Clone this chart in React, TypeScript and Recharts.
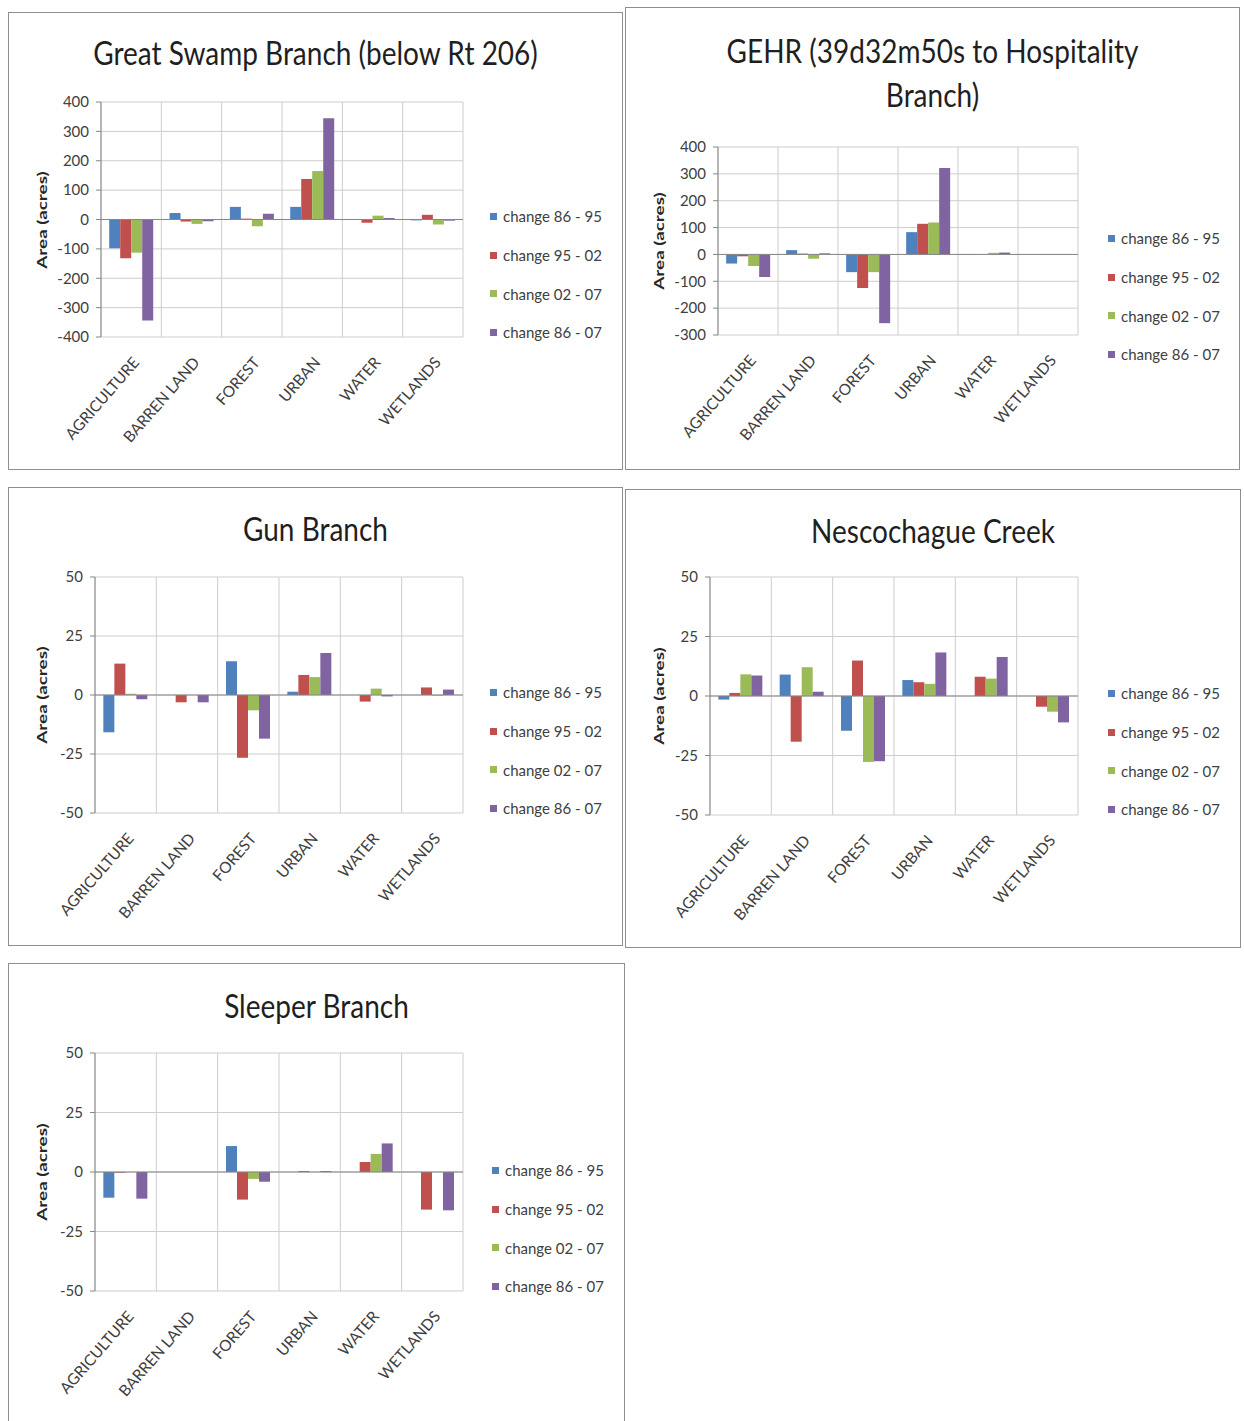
import React from "react";
import {
  BarChart,
  Bar,
  XAxis,
  YAxis,
  CartesianGrid,
  Legend,
  ReferenceLine,
} from "recharts";

const FONT = "Lato, 'Open Sans', sans-serif";

const categories = ["AGRICULTURE", "BARREN LAND", "FOREST", "URBAN", "WATER", "WETLANDS"];
const seriesNames = ["change 86 - 95", "change 95 - 02", "change 02 - 07", "change 86 - 07"];
const seriesColors = ["#4F81BD", "#C0504D", "#9BBB59", "#8064A2"];

// rows follow seriesNames, columns follow categories
const greatSwampValues = [
  [-98, 22, 43, 43, 0, -3],
  [-132, -7, 3, 138, -11, 16],
  [-113, -15, -23, 165, 13, -17],
  [-344, -6, 20, 345, 5, -4],
];
const gehrValues = [
  [-34, 16, -66, 83, -2, 0],
  [-7, 3, -125, 114, 0, -1],
  [-43, -16, -66, 119, 6, -2],
  [-84, 4, -256, 322, 7, -2],
];
const gunValues = [
  [-15.8, 0, 14.3, 1.4, 0, 0],
  [13.3, -3.1, -26.6, 8.5, -2.8, 3.2],
  [0.5, 0, -6.5, 7.6, 2.7, -0.3],
  [-1.8, -3.1, -18.5, 17.8, -0.6, 2.3],
];
const nescochagueValues = [
  [-1.5, 9.0, -14.6, 6.7, 0, 0],
  [1.3, -19.2, 14.9, 5.8, 8.1, -4.5],
  [9.1, 12.1, -27.7, 5.1, 7.3, -6.6],
  [8.6, 1.8, -27.4, 18.3, 16.4, -11.1],
];
const sleeperValues = [
  [-10.8, 0, 10.9, 0, 0, 0],
  [-0.3, 0, -11.6, 0.4, 4.2, -15.8],
  [0, 0, -2.9, 0, 7.6, 0],
  [-11.2, 0, -4.1, 0.4, 12.0, -16.1],
];

const bigTicksA = [-400, -300, -200, -100, 0, 100, 200, 300, 400];
const bigTicksB = [-300, -200, -100, 0, 100, 200, 300, 400];
const smallTicks = [-50, -25, 0, 25, 50];

function XTick({ x, y, payload }: any) {
  const ax = x + 9;
  const ay = y + 18;
  return (
    <text
      x={ax}
      y={ay}
      transform={`rotate(-49, ${ax}, ${ay})`}
      textAnchor="end"
      fill="#404040"
      fontSize={15.5}
      fontFamily={FONT}
    >
      {payload.value}
    </text>
  );
}

function LegendBox() {
  return (
    <div style={{ fontFamily: FONT, fontSize: 15, color: "#404040", textAlign: "left" }}>
      {seriesNames.map((name, i) => (
        <div key={name} style={{ height: 38.7, display: "flex", alignItems: "center" }}>
          <span
            style={{
              display: "inline-block",
              width: 7,
              height: 7,
              background: seriesColors[i],
              marginRight: 6,
            }}
          />
          {name}
        </div>
      ))}
    </div>
  );
}

function Panel({ box, title, values, ticks, plot, legendPos, titleTop }: any) {
  const data = categories.map((name, i) => ({
    name,
    s0: values[0][i],
    s1: values[1][i],
    s2: values[2][i],
    s3: values[3][i],
  }));
  const yAxisWidth = 60;
  const xAxisHeight = 110;
  const margin = {
    top: plot.top,
    right: box.w - plot.right,
    left: plot.left - yAxisWidth,
    bottom: box.h - plot.bottom - xAxisHeight,
  };

  return (
    <div style={{ position: "absolute", left: box.x, top: box.y, width: box.w, height: box.h, background: "#fff" }}>
      <div
        style={{
          position: "absolute",
          left: 0,
          top: titleTop,
          width: box.w,
          textAlign: "center",
          fontFamily: FONT,
          fontSize: 28,
          lineHeight: "39px",
          color: "#1f1f1f",
          transform: "scaleY(1.15)",
          transformOrigin: "top center",
        }}
      >
        {title.map((t: string) => (
          <div key={t}>{t}</div>
        ))}
      </div>
      <div
        style={{
          position: "absolute",
          left: 34 - 60,
          top: (plot.top + plot.bottom) / 2 - 10,
          width: 120,
          height: 20,
          textAlign: "center",
          transform: "rotate(-90deg) scaleX(1.45)",
          fontFamily: FONT,
          fontWeight: "bold",
          fontSize: 13,
          lineHeight: "20px",
          color: "#262626",
        }}
      >
        Area (acres)
      </div>
      <div style={{ position: "absolute", left: 0, top: 0 }}>
        <BarChart
          width={box.w}
          height={box.h}
          data={data}
          margin={margin}
          barCategoryGap="13.6%"
          barGap={0}
        >
          <CartesianGrid
            stroke="#cdcdcd"
            verticalCoordinatesGenerator={({ offset }: any) =>
              categories.concat([""]).map((_, i) => offset.left + (i * offset.width) / categories.length)
            }
          />
          <XAxis
            dataKey="name"
            height={xAxisHeight}
            axisLine={false}
            tickLine={false}
            interval={0}
            tick={<XTick />}
          />
          <YAxis
            width={yAxisWidth}
            domain={[ticks[0], ticks[ticks.length - 1]]}
            ticks={ticks}
            interval={0}
            allowDataOverflow
            axisLine={{ stroke: "#868686" }}
            tickLine={{ stroke: "#868686" }}
            tickSize={5}
            tickMargin={7}
            tick={{ fill: "#404040", fontSize: 15, fontFamily: FONT }}
          />
          <ReferenceLine y={0} stroke="#868686" />
          <Legend
            layout="vertical"
            align="center"
            verticalAlign="middle"
            content={() => <LegendBox />}
            wrapperStyle={{ left: legendPos.x, top: legendPos.y - 19, width: 130 }}
          />
          {seriesNames.map((name, i) => (
            <Bar key={name} dataKey={`s${i}`} name={name} fill={seriesColors[i]} isAnimationActive={false} />
          ))}
        </BarChart>
      </div>
      <div
        style={{
          position: "absolute",
          left: 0,
          top: 0,
          width: box.w,
          height: box.h,
          boxSizing: "border-box",
          border: "1px solid #8f8f8f",
          pointerEvents: "none",
        }}
      />
    </div>
  );
}

export default function App() {
  return (
    <div style={{ position: "absolute", left: 0, top: 0, width: 1244, height: 1421, background: "#fff", overflow: "hidden" }}>
      <Panel
        box={{ x: 8, y: 12, w: 615, h: 458 }}
        title={["Great Swamp Branch (below Rt 206)"]}
        titleTop={18}
        values={greatSwampValues}
        ticks={bigTicksA}
        plot={{ left: 93, right: 455, top: 90, bottom: 325 }}
        legendPos={{ x: 482, y: 204 }}
      />
      <Panel
        box={{ x: 625, y: 7, w: 615, h: 463 }}
        title={["GEHR (39d32m50s to Hospitality", "Branch)"]}
        titleTop={21}
        values={gehrValues}
        ticks={bigTicksB}
        plot={{ left: 93, right: 453, top: 140, bottom: 328 }}
        legendPos={{ x: 483, y: 231 }}
      />
      <Panel
        box={{ x: 8, y: 487, w: 615, h: 459 }}
        title={["Gun Branch"]}
        titleTop={19}
        values={gunValues}
        ticks={smallTicks}
        plot={{ left: 87, right: 455, top: 90, bottom: 326 }}
        legendPos={{ x: 482, y: 205 }}
      />
      <Panel
        box={{ x: 625, y: 489, w: 616, h: 459 }}
        title={["Nescochague Creek"]}
        titleTop={19}
        values={nescochagueValues}
        ticks={smallTicks}
        plot={{ left: 85, right: 453, top: 88, bottom: 326 }}
        legendPos={{ x: 483, y: 204 }}
      />
      <Panel
        box={{ x: 8, y: 963, w: 617, h: 470 }}
        title={["Sleeper Branch"]}
        titleTop={20}
        values={sleeperValues}
        ticks={smallTicks}
        plot={{ left: 87, right: 455, top: 90, bottom: 328 }}
        legendPos={{ x: 484, y: 207 }}
      />
    </div>
  );
}
